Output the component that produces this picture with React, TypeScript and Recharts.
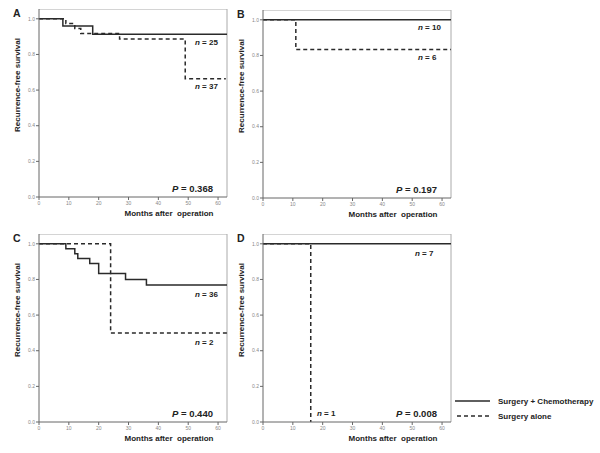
import React from 'react';
import { LineChart, Line, XAxis, YAxis, ReferenceLine } from 'recharts';

const FONT = '"Liberation Sans", Arial, Helvetica, sans-serif';

const monthTicks = [0, 10, 20, 30, 40, 50, 60];
const survivalTicks = [0, 0.2, 0.4, 0.6, 0.8, 1.0];
const monthMax = 63;
const survMax = 1.055;

// Panel A
const aChemoMonths = [0, 8, 18, 63];
const aChemoSurv = [1, 0.96, 0.913, 0.913];
const aAloneMonths = [0, 9, 12, 14, 27, 49, 62.6];
const aAloneSurv = [1, 0.973, 0.946, 0.917, 0.886, 0.664, 0.664];
// Panel B
const bChemoMonths = [0, 63];
const bChemoSurv = [1, 1];
const bAloneMonths = [0, 11, 63];
const bAloneSurv = [1, 0.833, 0.833];
// Panel C
const cChemoMonths = [0, 9, 12, 13, 17, 20, 29, 36, 63];
const cChemoSurv = [1, 0.972, 0.944, 0.917, 0.889, 0.833, 0.8, 0.769, 0.769];
const cAloneMonths = [0, 24, 63];
const cAloneSurv = [1, 0.5, 0.5];
// Panel D
const dChemoMonths = [0, 63];
const dChemoSurv = [1, 1];
const dAloneMonths = [0, 16];
const dAloneSurv = [1, 0];

const panelLetters = ['A', 'B', 'C', 'D'];
const chemoN = ['25', '10', '36', '7'];
const aloneN = ['37', '6', '2', '1'];
const pValues = ['0.368', '0.197', '0.440', '0.008'];
const legendLabels = ['Surgery + Chemotherapy', 'Surgery alone'];

const PLOT = 188;
const YW = 30;
const XH = 20;

function rows(months: number[], surv: number[], key: string) {
  return months.map((m, i) => ({ month: m, [key]: surv[i] }));
}

function KMPanel(props: {
  left: number; top: number;
  chemoM: number[]; chemoS: number[]; aloneM: number[]; aloneS: number[];
}) {
  const { left, top, chemoM, chemoS, aloneM, aloneS } = props;
  const chemo = rows(chemoM, chemoS, 'chemo');
  const alone = rows(aloneM, aloneS, 'alone');
  const tickStyle = { fontSize: 5, fill: '#888', fontFamily: FONT };
  return (
    <div style={{ position: 'absolute', left: left - YW, top, width: YW + PLOT + 2, height: PLOT + XH }}>
      <LineChart width={YW + PLOT + 2} height={PLOT + XH} margin={{ top: 0, right: 2, bottom: 0, left: 0 }} style={{ overflow: 'visible' }}>
        <XAxis
          dataKey="month" type="number" domain={[0, monthMax]} ticks={monthTicks}
          allowDataOverflow interval={0} height={XH} stroke="#666" tickSize={3} tickMargin={1}
          tick={tickStyle}
        />
        <YAxis
          type="number" domain={[0, survMax]} ticks={survivalTicks} allowDataOverflow interval={0}
          width={YW} stroke="#666" tickSize={3} tickMargin={1}
          tickFormatter={(v: number) => v.toFixed(1)} tick={tickStyle}
        />
        <ReferenceLine y={survMax} stroke="#aaa" strokeWidth={1} />
        <ReferenceLine x={monthMax} stroke="#aaa" strokeWidth={1} />
        <Line data={alone} dataKey="alone" type="stepAfter" stroke="#2a2a2a" strokeWidth={1.5}
          strokeDasharray="4 3" dot={false} isAnimationActive={false} />
        <Line data={chemo} dataKey="chemo" type="stepAfter" stroke="#2a2a2a" strokeWidth={1.5}
          dot={false} isAnimationActive={false} />
      </LineChart>
    </div>
  );
}

const panelOrigins = [
  { x: 39, y: 9 },
  { x: 263, y: 10 },
  { x: 39, y: 234 },
  { x: 263, y: 234 },
];
// annotation offsets relative to each panel's plot origin
const chemoNPos = [[156, 33], [155, 17], [156, 60], [152, 19]];
const aloneNPos = [[156, 77], [155, 47], [156, 108], [54, 179]];

export default function App() {
  const curves = [
    [aChemoMonths, aChemoSurv, aAloneMonths, aAloneSurv],
    [bChemoMonths, bChemoSurv, bAloneMonths, bAloneSurv],
    [cChemoMonths, cChemoSurv, cAloneMonths, cAloneSurv],
    [dChemoMonths, dChemoSurv, dAloneMonths, dAloneSurv],
  ];
  return (
    <div style={{ position: 'absolute', left: 0, top: 0, width: 600, height: 453, background: '#fff', overflow: 'hidden' }}>
      {curves.map((c, i) => (
        <KMPanel key={i} left={panelOrigins[i].x} top={panelOrigins[i].y}
          chemoM={c[0]} chemoS={c[1]} aloneM={c[2]} aloneS={c[3]} />
      ))}
      <svg width={600} height={453} style={{ position: 'absolute', left: 0, top: 0, pointerEvents: 'none' }}
        fontFamily={FONT} fontWeight="bold" fill="#222">
        {panelOrigins.map((o, i) => (
          <g key={i}>
            <text x={o.x - 26} y={o.y + 4} fontSize={10.5} dominantBaseline="central">{panelLetters[i]}</text>
            <text x={o.x + chemoNPos[i][0]} y={o.y + chemoNPos[i][1]} fontSize={8} dominantBaseline="central">
              <tspan fontStyle="italic">n</tspan> = {chemoN[i]}
            </text>
            <text x={o.x + aloneNPos[i][0]} y={o.y + aloneNPos[i][1]} fontSize={8} dominantBaseline="central">
              <tspan fontStyle="italic">n</tspan> = {aloneN[i]}
            </text>
            <text x={o.x + 133} y={o.y + 179} fontSize={9.5} dominantBaseline="central">
              <tspan fontStyle="italic">P</tspan> = {pValues[i]}
            </text>
            <text x={o.x + 130} y={o.y + 204} fontSize={8} textAnchor="middle" dominantBaseline="central"
              style={{ whiteSpace: 'pre' }}>
              {'Months after  operation'}
            </text>
            <text x={o.x - 22} y={o.y + 76} fontSize={8} textAnchor="middle" dominantBaseline="central"
              transform={`rotate(-90 ${o.x - 22} ${o.y + 76})`}>
              Recurrence-free survival
            </text>
          </g>
        ))}
        <line x1={455} x2={490} y1={401} y2={401} stroke="#2a2a2a" strokeWidth={1.5} />
        <line x1={457} x2={490} y1={416} y2={416} stroke="#2a2a2a" strokeWidth={1.5} strokeDasharray="4 3" />
        <text x={498} y={401} fontSize={8} dominantBaseline="central">{legendLabels[0]}</text>
        <text x={498} y={416} fontSize={8} dominantBaseline="central">{legendLabels[1]}</text>
      </svg>
    </div>
  );
}
